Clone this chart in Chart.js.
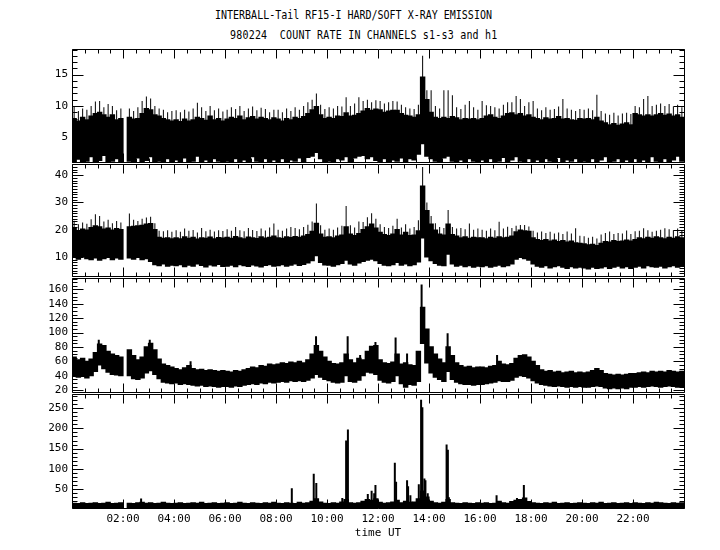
<!DOCTYPE html>
<html>
<head>
<meta charset="utf-8">
<script src="https://cdn.jsdelivr.net/npm/chart.js@4.4.1/dist/chart.umd.min.js"></script>
<style>
  body { margin: 0; background: #fff; }
  #page { position: relative; width: 720px; height: 550px; overflow: hidden; background: #fff; }
  canvas { position: absolute; left: 0; }
  .ttl { position: absolute; font: 10px 'DejaVu Sans Mono', monospace; line-height: 12px; white-space: pre; color: #000; transform: scaleY(1.25); transform-origin: 0 50%; }
</style>
</head>
<body>
<div id="page">
  <div class="ttl" style="left:215px; top:9px">INTERBALL-Tail RF15-I HARD/SOFT X-RAY EMISSION</div>
  <div class="ttl" style="left:230px; top:29px; letter-spacing:0.2px">980224  COUNT RATE IN CHANNELS s1-s3 and h1</div>
  <canvas id="c1"></canvas>
  <canvas id="c2"></canvas>
  <canvas id="c3"></canvas>
  <canvas id="c4"></canvas>
</div>
<script>
// 10-minute bins from 00:00 to 24:00 UT, 144 per series, one row = 2 hours; null = data gap
const BIN_HOURS = 1 / 6;

// channel 1 (top panel): band bottom, band top, needle peaks
const s1Lo = [
  1.0, 1.5, 1.0, 1.2, 1.9, 1.0, 1.3, 2.1, 1.0, 1.2, 1.6, 1.0,
  null, 1.2, 1.0, 1.7, 1.0, 1.3, 1.9, 1.0, 1.2, 1.0, 1.6, 1.0,
  1.4, 1.0, 1.7, 1.0, 1.2, 2.0, 1.0, 1.4, 1.0, 1.6, 1.2, 1.0,
  1.2, 1.0, 1.6, 1.0, 1.4, 1.0, 1.9, 1.2, 1.0, 1.6, 1.0, 1.4,
  1.0, 1.6, 1.0, 1.4, 1.2, 1.7, 1.0, 1.8, 2.0, 2.6, 1.6, 1.0,
  1.2, 1.0, 1.6, 1.4, 1.9, 1.0, 1.7, 2.0, 2.1, 1.6, 1.9, 1.3,
  1.0, 1.6, 1.0, 1.4, 1.2, 1.7, 1.0, 1.6, 1.4, 2.3, 4.0, 2.0,
  1.6, 1.2, 1.0, 1.7, 2.0, 1.2, 1.0, 1.4, 1.0, 1.6, 1.2, 1.0,
  1.4, 1.0, 1.6, 1.0, 1.2, 1.8, 1.0, 1.4, 1.9, 1.2, 1.0, 1.6,
  1.0, 1.4, 1.0, 1.6, 1.2, 1.0, 1.8, 1.0, 1.4, 1.2, 1.6, 1.0,
  1.2, 1.0, 1.6, 1.0, 1.4, 1.9, 1.0, 1.2, 1.6, 1.0, 1.4, 1.0,
  1.6, 1.0, 1.4, 1.0, 1.9, 1.2, 1.0, 1.6, 1.0, 1.4, 2.0, 1.2,
];
const s1Hi = [
  8.0, 7.6, 8.2, 7.8, 8.4, 8.8, 9.0, 8.6, 8.2, 8.6, 7.8, 8.0,
  null, 8.2, 7.9, 8.0, 8.8, 9.6, 9.4, 8.6, 8.4, 8.0, 7.8, 7.6,
  7.8, 7.5, 7.9, 7.6, 7.8, 8.2, 8.0, 7.7, 8.4, 7.8, 8.0, 7.6,
  7.9, 8.2, 8.0, 8.4, 7.8, 8.1, 8.3, 7.9, 8.2, 8.0, 7.8, 8.1,
  7.9, 7.6, 8.0, 7.8, 8.2, 8.0, 8.3, 8.8, 9.4, 9.9, 8.6, 8.0,
  8.2, 8.0, 8.4, 8.3, 8.9, 8.4, 8.5, 8.8, 9.2, 9.6, 9.3, 9.5,
  9.4, 9.0, 9.2, 9.3, 9.3, 8.8, 8.5, 8.4, 8.2, 8.6, 14.6, 11.0,
  9.0, 8.2, 8.0, 8.2, 8.0, 8.3, 8.1, 7.8, 8.0, 7.9, 8.0, 7.8,
  8.0, 8.4, 8.6, 8.2, 8.0, 8.4, 8.8, 8.9, 8.6, 8.8, 8.4, 8.6,
  8.2, 8.0, 7.8, 8.1, 7.9, 8.0, 8.3, 7.9, 8.0, 7.8, 7.7, 8.0,
  7.9, 8.0, 7.8, 8.2, 7.6, 7.3, 7.0, 7.2, 6.9, 7.1, 7.3, 7.0,
  8.8, 8.6, 8.4, 8.6, 8.4, 8.6, 8.8, 8.5, 8.7, 8.4, 8.6, 8.2,
];
const s1Peak = [
  9.9, 9.2, 9.6, 9.4, 10.0, 10.7, 10.8, 9.8, 10.3, 10.0, 9.3, 9.6,
  null, 9.6, 9.2, 9.8, 10.8, 11.5, 11.2, 10.0, 9.6, 9.4, 9.0, 9.2,
  9.3, 9.0, 9.4, 9.1, 9.6, 10.5, 9.8, 9.2, 10.0, 9.3, 9.6, 9.1,
  9.4, 9.8, 9.5, 10.0, 9.2, 9.6, 9.9, 9.3, 9.7, 9.5, 9.0, 9.4,
  9.4, 9.0, 9.6, 9.2, 9.8, 9.4, 10.0, 10.6, 11.0, 12.0, 10.2, 9.5,
  9.8, 9.6, 10.0, 9.9, 11.4, 10.0, 10.4, 11.4, 10.8, 11.0, 10.6, 10.9,
  10.8, 10.4, 10.6, 10.8, 10.7, 10.2, 9.8, 9.6, 9.5, 10.2, 18.0, 12.5,
  12.5, 10.0, 9.6, 12.5, 12.5, 11.7, 9.8, 9.5, 10.2, 10.8, 9.8, 9.4,
  10.8, 10.1, 10.0, 9.8, 9.6, 10.2, 10.6, 10.6, 11.6, 11.1, 10.0, 10.6,
  10.8, 9.6, 9.3, 9.8, 9.4, 9.5, 9.9, 11.1, 9.6, 9.4, 9.2, 9.5,
  9.4, 9.6, 9.3, 11.8, 9.2, 8.8, 8.6, 8.9, 8.5, 8.8, 8.9, 8.7,
  10.0, 9.8, 11.1, 11.6, 10.0, 10.2, 10.4, 10.0, 10.3, 9.9, 10.2, 9.8,
];

// channel 2
const s2Lo = [
  9.8, 9.2, 10.0, 9.4, 9.0, 9.6, 8.8, 9.4, 9.8, 9.0, 9.6, 9.2,
  null, 9.6, 9.2, 9.8, 9.0, 9.4, 8.4, 7.2, 6.8, 7.4, 6.6, 7.0,
  6.8, 7.2, 6.4, 7.0, 6.6, 7.4, 6.9, 6.3, 7.1, 6.7, 7.3, 6.5,
  6.6, 7.0, 6.4, 7.2, 6.8, 6.5, 7.1, 6.7, 6.3, 6.9, 7.2, 6.6,
  6.8, 7.2, 6.6, 7.0, 7.4, 6.9, 7.3, 7.8, 8.6, 10.5, 8.0, 7.1,
  7.0, 6.6, 7.2, 7.6, 8.8, 7.4, 7.0, 7.8, 8.4, 8.8, 9.2, 8.6,
  7.6, 7.0, 6.8, 7.2, 8.0, 7.0, 7.4, 6.8, 7.2, 8.2, 17.0, 10.0,
  8.6, 7.6, 7.0, 6.8, 11.0, 7.4, 6.6, 7.0, 6.4, 6.8, 6.2, 6.6,
  6.4, 6.8, 6.2, 6.6, 7.0, 6.4, 6.8, 7.4, 9.2, 9.8, 9.4, 8.8,
  7.4, 6.6, 6.2, 6.8, 6.0, 6.4, 6.8, 6.2, 5.8, 6.4, 6.0, 6.2,
  6.0, 5.6, 6.2, 5.8, 6.0, 6.4, 5.8, 6.2, 6.6, 6.0, 6.4, 5.8,
  6.2, 6.6, 6.0, 6.8, 6.4, 6.2, 6.6, 6.0, 6.4, 6.8, 6.2, 6.5,
];
const s2Hi = [
  20.5, 19.6, 20.2, 19.8, 20.8, 21.4, 21.0, 20.2, 20.6, 19.8, 20.4, 20.0,
  null, 21.0, 21.2, 21.4, 21.6, 22.0, 22.2, 20.0, 17.2, 16.8, 17.0, 16.6,
  17.0, 16.6, 17.4, 16.8, 17.2, 16.5, 17.0, 16.8, 17.3, 16.6, 17.1, 16.9,
  17.2, 16.8, 17.5, 17.0, 16.6, 17.3, 17.0, 16.7, 17.4, 16.9, 17.2, 17.6,
  17.0, 16.8, 17.4, 17.1, 17.5, 17.2, 17.6, 18.2, 19.4, 22.3, 18.4, 17.2,
  17.4, 17.0, 17.6, 18.0, 21.0, 18.4, 17.8, 18.6, 20.0, 21.0, 22.0, 20.6,
  19.0, 18.2, 17.8, 18.4, 20.0, 18.0, 19.0, 17.8, 18.0, 19.6, 36.0, 27.0,
  22.0, 19.8, 18.4, 18.0, 22.0, 18.2, 17.6, 17.0, 17.4, 16.8, 17.2, 17.0,
  17.0, 16.6, 17.2, 16.8, 17.4, 17.0, 17.2, 17.6, 19.2, 19.8, 19.6, 19.4,
  17.0, 16.4, 16.0, 16.4, 15.8, 16.2, 15.6, 16.0, 15.4, 15.8, 15.2, 15.0,
  14.8, 14.4, 14.6, 14.2, 15.0, 15.6, 15.4, 16.0, 15.6, 15.8, 16.2, 15.8,
  16.4, 17.0, 16.6, 17.2, 16.8, 17.4, 17.0, 16.6, 17.2, 16.8, 17.4, 17.0,
];
const s2Peak = [
  23.3, 22.0, 22.6, 22.2, 23.8, 25.7, 25.0, 23.0, 23.6, 22.4, 23.2, 22.6,
  null, 25.9, 23.6, 23.2, 24.0, 24.5, 24.7, 22.4, 19.6, 19.4, 19.8, 19.2,
  19.8, 19.2, 20.4, 19.6, 19.9, 19.0, 20.6, 19.4, 20.0, 19.3, 19.8, 19.5,
  20.2, 19.6, 21.0, 19.8, 19.4, 20.6, 19.9, 19.5, 20.4, 19.7, 20.8, 22.3,
  20.0, 19.6, 20.4, 21.0, 20.6, 20.2, 21.0, 21.8, 23.0, 29.6, 21.6, 20.0,
  20.4, 20.0, 20.8, 21.4, 28.7, 21.6, 20.8, 23.0, 22.8, 24.6, 26.0, 24.0,
  22.0, 21.0, 20.6, 21.4, 24.0, 20.8, 22.0, 20.4, 21.0, 23.5, 43.0, 30.0,
  25.0, 22.4, 21.0, 20.6, 27.2, 21.0, 20.4, 20.6, 20.2, 22.3, 20.0, 20.4,
  20.0, 19.6, 20.4, 19.8, 22.9, 20.4, 21.1, 20.6, 21.4, 21.7, 21.7, 21.2,
  19.6, 19.0, 19.3, 18.8, 19.2, 18.6, 19.0, 18.4, 19.3, 18.6, 20.5, 17.8,
  17.6, 17.0, 17.4, 16.8, 18.2, 18.8, 19.3, 18.4, 18.8, 18.6, 19.7, 18.4,
  19.4, 19.6, 20.5, 19.8, 19.2, 19.6, 20.0, 20.5, 20.2, 19.8, 20.4, 19.6,
];

// channel 3: band plus narrow flare peaks
const s3Lo = [
  40, 38, 39, 37, 40, 46, 55, 50, 45, 42, 41, 40,
  null, 40, 36, 35, 37, 44, 47, 42, 36, 31, 30, 29,
  30, 28, 29, 28, 27, 26, 27, 25, 26, 25, 24, 25,
  25, 24, 26, 25, 27, 28, 29, 28, 30, 29, 31, 30,
  31, 32, 31, 33, 32, 33, 32, 34, 37, 42, 38, 35,
  33, 31, 30, 31, 40, 32, 31, 34, 40, 45, 44, 42,
  34, 31, 30, 32, 40, 29, 24, 28, 27, 32, 85, 58,
  44, 38, 35, 32, 46, 35, 31, 29, 28, 28, 27, 28,
  28, 29, 30, 31, 33, 32, 32, 34, 38, 40, 39, 37,
  33, 30, 28, 27, 26, 25, 26, 25, 24, 25, 24, 25,
  24, 24, 25, 26, 25, 23, 22, 23, 22, 23, 22, 24,
  24, 25, 24, 25, 26, 25, 24, 25, 26, 25, 24, 25,
];
const s3Hi = [
  66, 62, 64, 60, 63, 72, 84, 82, 74, 70, 68, 66,
  null, 76, 68, 62, 66, 80, 85, 76, 63, 56, 54, 52,
  50, 48, 51, 54, 50, 48, 49, 47, 48, 47, 46, 47,
  46, 45, 47, 46, 48, 50, 52, 51, 54, 53, 56, 55,
  56, 58, 57, 59, 58, 60, 58, 62, 70, 82, 74, 66,
  60, 57, 56, 58, 70, 62, 58, 64, 62, 74, 81, 82,
  62, 58, 57, 59, 70, 56, 58, 55, 54, 74, 135, 105,
  80, 70, 63, 58, 80, 68, 58, 54, 52, 53, 51, 52,
  52, 51, 53, 54, 60, 56, 55, 57, 64, 68, 69, 66,
  60, 54, 48, 46, 47, 45, 46, 44, 45, 46, 44, 45,
  44, 45, 47, 50, 47, 43, 42, 41, 42, 41, 42, 43,
  43, 44, 45, 44, 46, 45, 46, 45, 47, 46, 45, 46,
];
const s3PeakT = [1.05, 3.05, 4.65, 9.57, 10.81, 11.3, 11.9, 12.69, 13.14, 13.71, 14.73, 16.67];
const s3PeakLo = [60, 60, 40, 55, 45, 45, 55, 45, 40, 112, 55, 45];
const s3PeakHi = [90, 90, 60, 95, 95, 69, 87, 93, 71, 167, 99, 69];

// channel h1: low background plus isolated bursts
const h1Floor = 3.3;
const h1Hi = [
  15, 14, 16, 14, 15, 16, 14, 15, 17, 14, 15, 16,
  null, 15, 14, 16, 17, 15, 16, 14, 15, 17, 15, 14,
  15, 16, 14, 15, 16, 15, 17, 14, 15, 16, 14, 15,
  16, 14, 15, 17, 15, 14, 16, 15, 14, 16, 15, 17,
  15, 14, 16, 15, 14, 17, 15, 16, 20, 26, 18, 15,
  14, 16, 15, 18, 24, 16, 15, 16, 20, 24, 22, 26,
  17, 15, 16, 18, 22, 16, 20, 17, 18, 26, 45, 30,
  20, 16, 15, 17, 24, 16, 15, 14, 16, 15, 14, 16,
  15, 16, 14, 15, 20, 16, 15, 19, 22, 24, 28, 19,
  16, 15, 14, 16, 15, 17, 14, 15, 16, 14, 15, 16,
  15, 14, 16, 15, 17, 14, 15, 16, 14, 15, 16, 14,
  16, 15, 14, 16, 15, 17, 16, 15, 14, 16, 15, 16,
];
const h1BurstBase = 8;
const h1BurstT = [2.71, 8.62, 9.48, 9.58, 10.6, 10.75, 10.82, 11.6, 11.75, 11.85, 11.9, 12.66, 12.71, 13.14,
  13.18, 13.27, 13.6, 13.69, 13.74, 13.82, 13.86, 13.95, 14.69, 14.74, 14.78, 16.65, 17.45, 17.72];
const h1BurstHi = [27, 52, 88, 65, 28, 170, 197, 38, 46, 40, 60, 115, 68, 72,
  57, 35, 62, 271, 252, 76, 72, 40, 160, 147, 30, 35, 28, 60];

// axis ticks
const timeTicks = [2, 4, 6, 8, 10, 12, 14, 16, 18, 20, 22];
const s1Ticks = [5, 10, 15];
const s2Ticks = [10, 20, 30, 40];
const s3Ticks = [20, 40, 60, 80, 100, 120, 140, 160];
const h1Ticks = [50, 100, 150, 200, 250];

const FONT = { family: "'DejaVu Sans Mono', monospace", size: 11 };
const INK = '#000';

function binCenter(i) {
  return (i + 0.5) * BIN_HOURS;
}

function bandData(lo, hi) {
  return hi.map((h, i) => {
    const l = Array.isArray(lo) ? lo[i] : lo;
    return { x: binCenter(i), y: h == null || l == null ? null : [l, h] };
  });
}

function needleData(hi, peak) {
  return hi.map((h, i) => {
    const p = peak[i];
    return { x: binCenter(i), y: h == null || p == null || p <= h ? null : [h, p] };
  });
}

function spikeData(t, lo, hi) {
  return t.map((v, i) => ({ x: v, y: [Array.isArray(lo) ? lo[i] : lo, hi[i]] }));
}

const noClip = { left: 0, top: 0, right: 0, bottom: 0 };

function bandSet(data) {
  return { data, backgroundColor: INK, borderWidth: 0, grouped: false, inflateAmount: 0.6,
    categoryPercentage: 1, barPercentage: 1, clip: noClip };
}

function thinSet(data, width, axis) {
  return { data, backgroundColor: INK, borderWidth: 0, grouped: false, inflateAmount: 0,
    barThickness: width, xAxisID: axis, clip: noClip };
}

// frame with inward ticks on all four sides, minor ticks included
const frameTicks = {
  id: 'frameTicks',
  afterDraw(chart, args, opts) {
    const { ctx, chartArea: a } = chart;
    const xs = chart.scales.x;
    const ys = chart.scales.y;
    const L = Math.round(a.left) + 0.5;
    const R = Math.round(a.right) + 0.5;
    const T = Math.round(a.top) + 0.5;
    const B = Math.round(a.bottom) + 0.5;
    ctx.save();
    ctx.strokeStyle = INK;
    ctx.lineWidth = 1;
    ctx.beginPath();
    ctx.rect(L, T, R - L, B - T);
    for (let k = 0; k <= 48; k++) {
      const px = Math.round(xs.getPixelForValue(k * 0.5)) + 0.5;
      const len = k % 4 === 0 ? 9 : 4;
      ctx.moveTo(px, T); ctx.lineTo(px, T + len);
      ctx.moveTo(px, B); ctx.lineTo(px, B - len);
    }
    const step = opts.minor;
    const first = Math.ceil(ys.min / step);
    const last = Math.floor(ys.max / step);
    for (let k = first; k <= last; k++) {
      const v = k * step;
      const py = Math.round(ys.getPixelForValue(v)) + 0.5;
      const major = opts.major.some((m) => Math.abs(m - v) < 1e-6);
      const len = major ? 11 : 5;
      ctx.moveTo(L, py); ctx.lineTo(L + len, py);
      ctx.moveTo(R, py); ctx.lineTo(R - len, py);
    }
    ctx.stroke();
    ctx.restore();
  },
};

function makePanel(id, top, bottom, yMin, yMax, yTicks, yMinor, datasets, last) {
  const canvas = document.getElementById(id);
  const extra = last ? 32 : 10;
  canvas.width = 720;
  canvas.height = bottom - top + 10 + extra;
  canvas.style.top = top - 10 + 'px';

  const xScale = { type: 'linear', min: 0, max: 24, offset: false, display: false };
  if (last) {
    Object.assign(xScale, {
      display: true,
      grid: { display: false, drawTicks: false },
      border: { display: false },
      afterBuildTicks: (s) => { s.ticks = timeTicks.map((v) => ({ value: v })); },
      afterFit: (s) => { s.height = 32; },
      ticks: {
        padding: 5,
        color: INK,
        font: FONT,
        autoSkip: false,
        maxRotation: 0,
        callback: (v) => String(v).padStart(2, '0') + ':00',
      },
      title: { display: true, text: 'time UT', color: INK, font: FONT, padding: 0 },
    });
  }

  new Chart(canvas, {
    type: 'bar',
    data: { datasets },
    options: {
      responsive: false,
      animation: false,
      layout: { padding: { left: 0, right: 36, top: 10, bottom: last ? 0 : 10 } },
      plugins: {
        legend: { display: false },
        tooltip: { enabled: false },
        frameTicks: { major: yTicks, minor: yMinor },
      },
      scales: {
        x: xScale,
        x2: { type: 'linear', min: 0, max: 24, offset: false, display: false },
        y: {
          type: 'linear',
          min: yMin,
          max: yMax,
          grid: { display: false, drawTicks: false },
          border: { display: false },
          afterBuildTicks: (s) => { s.ticks = yTicks.map((v) => ({ value: v })); },
          afterFit: (s) => { s.width = 72; },
          ticks: { padding: 4, color: INK, font: FONT, autoSkip: false },
        },
      },
    },
    plugins: [frameTicks],
  });
}

makePanel('c1', 48, 163, 1.0, 19.15, s1Ticks, 1, [
  bandSet(bandData(s1Lo, s1Hi)),
  thinSet(needleData(s1Hi, s1Peak), 1, 'x'),
], false);

makePanel('c2', 163, 277, 2.85, 44.25, s2Ticks, 1, [
  bandSet(bandData(s2Lo, s2Hi)),
  thinSet(needleData(s2Hi, s2Peak), 1, 'x'),
], false);

makePanel('c3', 277, 393, 16.8, 176.5, s3Ticks, 5, [
  bandSet(bandData(s3Lo, s3Hi)),
  thinSet(spikeData(s3PeakT, s3PeakLo, s3PeakHi), 2, 'x2'),
], false);

makePanel('c4', 393, 508, 3.3, 286, h1Ticks, 10, [
  bandSet(bandData(h1Floor, h1Hi)),
  thinSet(spikeData(h1BurstT, h1BurstBase, h1BurstHi), 2, 'x2'),
], true);
</script>
</body>
</html>
